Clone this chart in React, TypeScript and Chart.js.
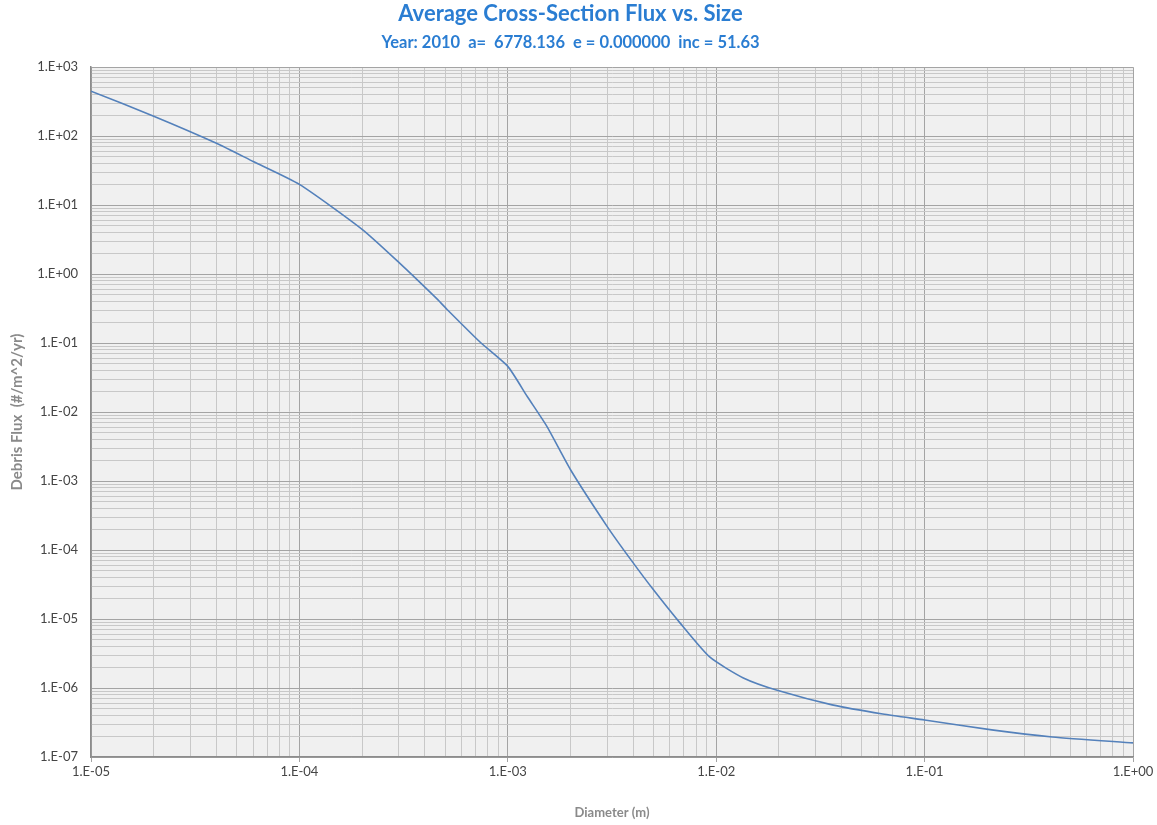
import React, { useEffect, useRef } from "react";
import { Chart, registerables } from "chart.js";

Chart.register(...registerables);

const chartTitle = "Average Cross-Section Flux vs. Size";
const chartSubtitle = "Year: 2010  a=  6778.136  e = 0.000000  inc = 51.63";
const xAxisTitle = "Diameter (m)";
const yAxisTitle = "Debris Flux  (#/m^2/yr)";

const diameters = [
  1.0e-5, 2.0e-5, 4.0e-5, 6.0e-5, 1.0e-4, 2.0e-4, 3.0e-4, 4.6e-4, 5.1e-4, 7.4e-4,
  1.0e-3, 1.24e-3, 1.54e-3, 2.0e-3, 3.0e-3, 3.9e-3, 5.0e-3, 6.7e-3, 9.3e-3, 1.35e-2,
  2.0e-2, 3.6e-2, 6.3e-2, 0.1, 0.21, 0.41, 1.0,
];
const flux = [
  449, 195, 79, 43, 20, 4.46, 1.48, 0.43, 0.31, 0.102,
  0.046, 0.0168, 6.2e-3, 1.46e-3, 2.19e-4, 7.2e-5, 2.65e-5, 8.8e-6, 2.82e-6, 1.4e-6,
  9.1e-7, 5.7e-7, 4.2e-7, 3.44e-7, 2.47e-7, 1.95e-7, 1.6e-7,
];

const xMin = 1e-5;
const xMax = 1;
const yMin = 1e-7;
const yMax = 1e3;

const isPow10 = (v: number) => {
  const l = Math.log10(v);
  return Math.abs(l - Math.round(l)) < 1e-9;
};

const fmtExp = (v: number) => {
  const e = Math.round(Math.log10(v));
  const s = e < 0 ? "-" : "+";
  const a = Math.abs(e);
  return "1.E" + s + (a < 10 ? "0" + a : String(a));
};

const logTicks = (min: number, max: number) => {
  const out: { value: number; major: boolean }[] = [];
  const e0 = Math.round(Math.log10(min));
  const e1 = Math.round(Math.log10(max));
  for (let e = e0; e < e1; e++) {
    for (let m = 1; m <= 9; m++) {
      out.push({ value: parseFloat((m * Math.pow(10, e)).toPrecision(6)), major: m === 1 });
    }
  }
  out.push({ value: max, major: true });
  return out;
};

const bgPlugin = {
  id: "plotBg",
  beforeDraw(chart: any) {
    const { ctx, chartArea } = chart;
    ctx.save();
    ctx.fillStyle = "#ffffff";
    ctx.fillRect(0, 0, chart.width, chart.height);
    ctx.fillStyle = "#f0f0f0";
    ctx.fillRect(chartArea.left, chartArea.top, chartArea.right - chartArea.left, chartArea.bottom - chartArea.top);
    ctx.restore();
  },
};

export default function App() {
  const ref = useRef<HTMLCanvasElement>(null);

  useEffect(() => {
    if (!ref.current) return;
    const points = diameters.map((d, i) => ({ x: d, y: flux[i] }));
    const gridColor = (ctx: any) =>
      ctx.tick && isPow10(ctx.tick.value) ? "#a4a4a4" : "#c8c8c8";
    const chart = new Chart(ref.current, {
      type: "line",
      data: {
        datasets: [
          {
            data: points,
            borderColor: "#5481bb",
            borderWidth: 1.6,
            pointRadius: 0,
            tension: 0.2,
            fill: false,
          },
        ],
      },
      options: {
        responsive: false,
        animation: false,
        layout: { padding: { left: 8, right: 24, top: 0, bottom: 0 } },
        plugins: {
          legend: { display: false },
          tooltip: { enabled: false },
          title: {
            display: true,
            text: chartTitle,
            color: "#2a7dd2",
            font: { family: "Lato", size: 22, weight: "bold" },
            padding: { top: 1, bottom: 3 },
          },
          subtitle: {
            display: true,
            text: chartSubtitle,
            color: "#2a7dd2",
            font: { family: "Lato", size: 16.5, weight: "bold" },
            padding: { top: 2, bottom: 15 },
          },
        },
        scales: {
          x: {
            type: "logarithmic",
            min: xMin,
            max: xMax,
            afterBuildTicks: (scale: any) => {
              scale.ticks = logTicks(xMin, xMax);
            },
            afterFit: (scale: any) => {
              scale.height = 68;
            },
            ticks: {
              autoSkip: false,
              maxRotation: 0,
              minRotation: 0,
              padding: 2,
              color: "#454545",
              font: { family: "Lato", size: 13 },
              callback: (v: any) => (isPow10(Number(v)) ? fmtExp(Number(v)) : ""),
            },
            grid: {
              color: gridColor,
              lineWidth: 1,
              drawTicks: true,
              tickLength: 5,
              tickColor: (ctx: any) => (ctx.tick && isPow10(ctx.tick.value) ? "#a4a4a4" : "rgba(0,0,0,0)"),
            },
            border: { color: "#8c8c8c", width: 1.5 },
            title: {
              display: true,
              text: xAxisTitle,
              color: "#8a8a8a",
              font: { family: "Lato", size: 13, weight: "bold" },
              padding: { top: 0, bottom: 4 },
            },
          },
          y: {
            type: "logarithmic",
            min: yMin,
            max: yMax,
            afterBuildTicks: (scale: any) => {
              scale.ticks = logTicks(yMin, yMax);
            },
            afterFit: (scale: any) => {
              scale.width = 83;
            },
            ticks: {
              autoSkip: false,
              padding: 13,
              color: "#454545",
              font: { family: "Lato", size: 13 },
              callback: (v: any) => (isPow10(Number(v)) ? fmtExp(Number(v)) : ""),
            },
            grid: {
              color: gridColor,
              lineWidth: 1,
              drawTicks: false,
            },
            border: { color: "#8c8c8c", width: 1.5 },
            title: {
              display: true,
              text: yAxisTitle,
              color: "#8a8a8a",
              font: { family: "Lato", size: 15, weight: "bold" },
              padding: { top: 0, bottom: 0 },
            },
          },
        },
      },
      plugins: [bgPlugin],
    } as any);
    return () => chart.destroy();
  }, []);

  return (
    <div style={{ position: "fixed", left: 0, top: 0, width: 1157, height: 825, background: "#fff" }}>
      <canvas ref={ref} width={1157} height={825} style={{ display: "block" }} />
    </div>
  );
}
